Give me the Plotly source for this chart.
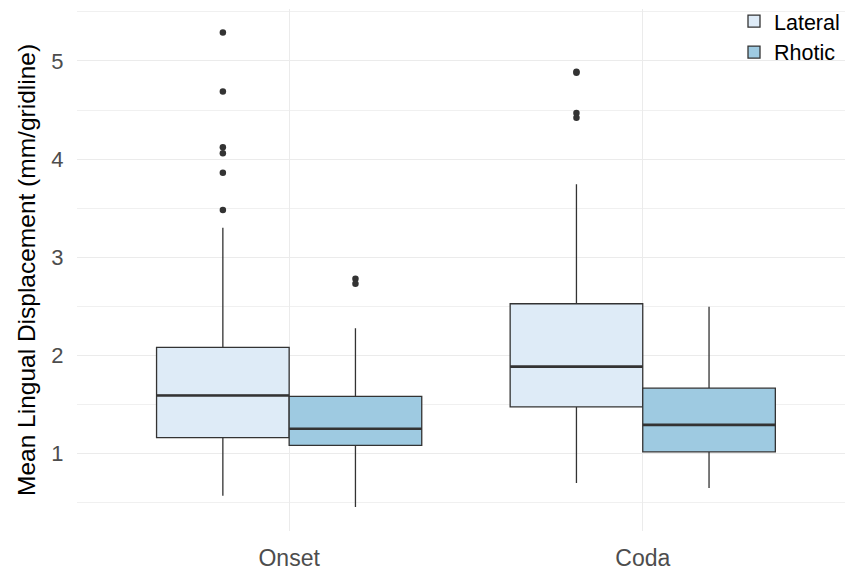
import plotly.graph_objects as go

# Boxplot summary statistics per syllable position
positions = ["Onset", "Coda"]
series = ["Lateral", "Rhotic"]

lateral_lower = [0.567, 0.697]
lateral_q1 = [1.16, 1.474]
lateral_median = [1.59, 1.884]
lateral_q3 = [2.08, 2.525]
lateral_upper = [3.30, 3.744]
lateral_outliers = [[5.29, 4.69, 4.12, 4.06, 3.86, 3.48], [4.88, 4.89, 4.47, 4.42]]

rhotic_lower = [0.452, 0.646]
rhotic_q1 = [1.08, 1.015]
rhotic_median = [1.25, 1.29]
rhotic_q3 = [1.58, 1.664]
rhotic_upper = [2.275, 2.495]
rhotic_outliers = [[2.78, 2.73], []]

colors = {"Lateral": "#deebf7", "Rhotic": "#9ecae1"}
edge = "#333333"
dodge = 0.75
box_w = dodge / 2

stats = {
    "Lateral": (lateral_lower, lateral_q1, lateral_median, lateral_q3, lateral_upper, lateral_outliers),
    "Rhotic": (rhotic_lower, rhotic_q1, rhotic_median, rhotic_q3, rhotic_upper, rhotic_outliers),
}

fig = go.Figure()

for k, name in enumerate(series):
    lo, q1, med, q3, up, outs = stats[name]
    offset = (k - 0.5) * box_w
    xs = [i + 1 + offset for i in range(len(positions))]
    fig.add_trace(go.Box(
        name=name, x=xs, q1=q1, median=med, q3=q3,
        lowerfence=lo, upperfence=up, width=box_w,
        fillcolor=colors[name], line=dict(color=edge, width=1.3),
        whiskerwidth=0, boxpoints=False, hoverinfo="skip",
        legendgroup=name, showlegend=True,
    ))
    # thicker median bars
    mx, my = [], []
    for x, m in zip(xs, med):
        mx += [x - box_w / 2, x + box_w / 2, None]
        my += [m, m, None]
    fig.add_trace(go.Scatter(x=mx, y=my, mode="lines",
                             line=dict(color=edge, width=2.6),
                             showlegend=False, hoverinfo="skip"))
    # outlying points
    ox, oy = [], []
    for x, pts in zip(xs, outs):
        ox += [x] * len(pts)
        oy += pts
    fig.add_trace(go.Scatter(x=ox, y=oy, mode="markers",
                             marker=dict(color=edge, size=6.5),
                             showlegend=False, hoverinfo="skip"))

fig.update_layout(
    width=845, height=570,
    margin=dict(l=77, r=0, t=9, b=39),
    paper_bgcolor="white", plot_bgcolor="white",
    font=dict(family="Liberation Sans, Arial, sans-serif", color="#000000"),
    boxmode="overlay",
    legend=dict(x=1, xanchor="right", y=1.016, yanchor="top",
                bgcolor="rgba(0,0,0,0)", font=dict(size=21.5, color="#000000"),
                itemwidth=30, tracegroupgap=0),
)
fig.update_xaxes(
    range=[0.4, 2.572],
    tickvals=[1, 2], ticktext=positions,
    tickfont=dict(size=23, color="#4d4d4d"),
    showgrid=True, gridcolor="#ebebeb", gridwidth=1.1,
    zeroline=False, showline=False,
    ticks="outside", ticklen=6, tickcolor="rgba(0,0,0,0)",
)
fig.update_yaxes(
    range=[0.208, 5.53],
    tickvals=[1, 2, 3, 4, 5],
    tickfont=dict(size=22, color="#4d4d4d"),
    showgrid=True, gridcolor="#ebebeb", gridwidth=1.1,
    minor=dict(tickvals=[0.5, 1.5, 2.5, 3.5, 4.5, 5.5], showgrid=True,
               gridcolor="#f0f0f0", gridwidth=0.8),
    zeroline=False, showline=False,
    ticks="outside", ticklen=8, tickcolor="rgba(0,0,0,0)",
    title=dict(text="Mean Lingual Displacement (mm/gridline)",
               font=dict(size=24.5, color="#000000"), standoff=8),
)

fig.write_html("out.html")
